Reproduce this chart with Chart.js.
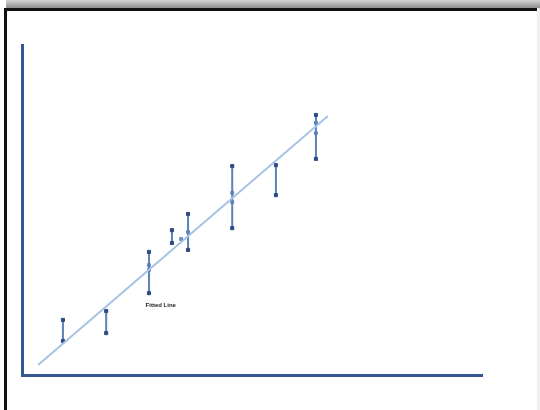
<!DOCTYPE html>
<html>
<head>
<meta charset="utf-8">
<script src="https://cdn.jsdelivr.net/npm/chart.js@4/dist/chart.umd.min.js"></script>
<style>
  html, body { margin: 0; padding: 0; background: #ffffff; }
  body { width: 540px; height: 410px; position: relative; overflow: hidden; font-family: "Liberation Sans", Arial, sans-serif; }
  .shadow { position: absolute; left: 6px; top: 0; width: 534px; height: 8px;
    background: linear-gradient(to bottom, #d4d4d4, #8e8e8e); }
  .frame { position: absolute; left: 4px; top: 8px; width: 533px; height: 410px;
    border-top: 3px solid #111; border-left: 3px solid #111; }
  .edge { position: absolute; right: 0; top: 8px; width: 3px; height: 402px; background: #f0f0f0; }
  canvas { position: absolute; left: 0; top: 0; filter: blur(0.5px); }
</style>
</head>
<body>
<div class="shadow"></div>
<div class="frame"></div>
<div class="edge"></div>
<canvas id="chart" width="540" height="410"></canvas>
<script>
// measurements (x position, low / high end of the error bar)
const xs     = [8.9, 18.3, 27.6, 32.6, 36.1, 45.7, 55.2, 63.9];
const lows   = [10.3, 12.7, 24.8, 40.0, 37.9, 44.5, 54.5, 65.5];
const highs  = [16.7, 19.4, 37.3, 43.9, 48.8, 63.3, 63.6, 78.8];

// extra markers sitting on the bars / near the line
const markX  = [27.6, 27.6, 34.6, 36.1, 45.7, 45.7, 63.9, 63.9];
const markY  = [33.3, 31.8, 41.2, 43.3, 55.2, 52.4, 76.4, 73.3];

// fitted line end points
const fitX   = [3.5, 66.5];
const fitY   = [3.0, 78.5];

const fitLabel = 'Fitted Line';

const axisBlue = '#34578f';
const barBlue = '#5c80b8';
const markBlue = '#2c4c86';

const datasets = [];

datasets.push({
  label: fitLabel,
  data: fitX.map((x, i) => ({ x, y: fitY[i] })),
  showLine: true,
  borderColor: '#a7c2e3',
  borderWidth: 2,
  pointRadius: 0
});

xs.forEach((x, i) => {
  datasets.push({
    label: 'bar' + i,
    data: [{ x, y: lows[i] }, { x, y: highs[i] }],
    showLine: true,
    borderColor: barBlue,
    borderWidth: 2,
    pointStyle: 'rect',
    pointRadius: 2.2,
    pointBackgroundColor: markBlue,
    pointBorderColor: markBlue,
    pointBorderWidth: 1
  });
});

datasets.push({
  label: 'marks',
  data: markX.map((x, i) => ({ x, y: markY[i] })),
  pointStyle: 'rect',
  pointRadius: 2,
  pointBackgroundColor: 'rgba(92,128,184,0.8)',
  pointBorderColor: barBlue,
  pointBorderWidth: 1
});

// small caption under the third bar, placed through the scales
const captionPlugin = {
  id: 'caption',
  afterDatasetsDraw(chart) {
    const { ctx, scales } = chart;
    const px = scales.x.getPixelForValue(27.3);
    const py = scales.y.getPixelForValue(21.2);
    ctx.save();
    ctx.font = 'bold 6px "Liberation Sans", Arial, sans-serif';
    ctx.fillStyle = '#222';
    ctx.textAlign = 'left';
    ctx.textBaseline = 'middle';
    ctx.fillText(fitLabel, px - 2, py);
    ctx.restore();
  }
};

new Chart(document.getElementById('chart').getContext('2d'), {
  type: 'scatter',
  data: { datasets },
  options: {
    responsive: false,
    animation: false,
    layout: { padding: { left: 22, right: 58, top: 45, bottom: 35 } },
    plugins: {
      legend: { display: false },
      tooltip: { enabled: false }
    },
    scales: {
      x: {
        type: 'linear', min: 0, max: 100,
        grid: { display: false, drawTicks: false },
        ticks: { display: false },
        border: { color: axisBlue, width: 3 }
      },
      y: {
        type: 'linear', min: 0, max: 100,
        grid: { display: false, drawTicks: false },
        ticks: { display: false },
        border: { color: axisBlue, width: 3 }
      }
    }
  },
  plugins: [captionPlugin]
});
</script>
</body>
</html>
